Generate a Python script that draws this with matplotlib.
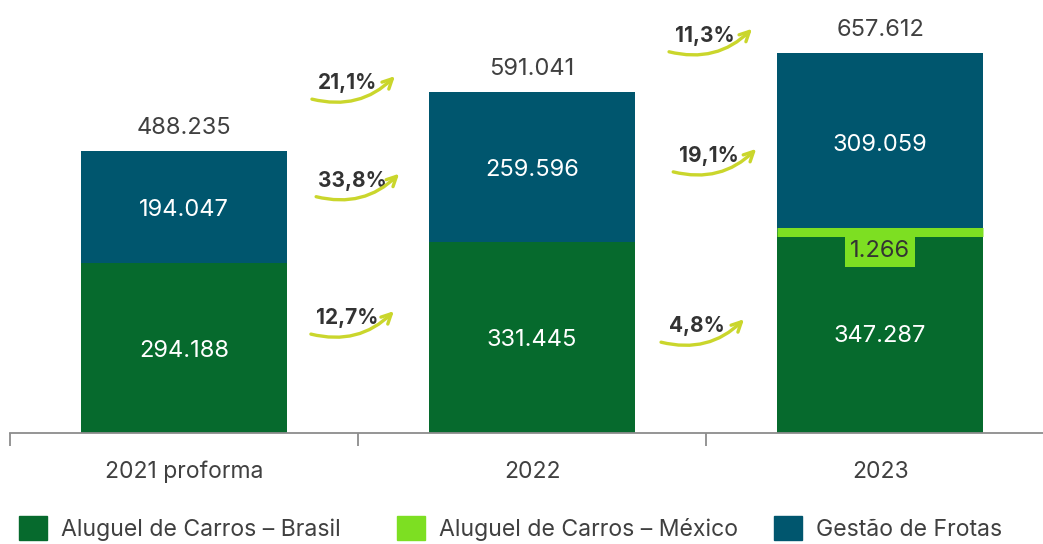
import matplotlib
matplotlib.use("Agg")
import matplotlib.pyplot as plt
import numpy as np
from matplotlib.patches import FancyArrowPatch, Patch
from matplotlib.transforms import IdentityTransform

# Revenue by business line (R$ thousand)
categories = ["2021 proforma", "2022", "2023"]
rental_brazil = [294.188, 331.445, 347.287]
rental_mexico = [0.0, 0.0, 1.266]
fleet_mgmt = [194.047, 259.596, 309.059]
series_names = ["Aluguel de Carros – Brasil", "Aluguel de Carros – México", "Gestão de Frotas"]

# Growth labels between years: (text, x, y) in data units
growth_labels = [
    ("21,1%", 0.471, 606), ("33,8%", 0.483, 437), ("12,7%", 0.468, 199),
    ("11,3%", 1.497, 688), ("19,1%", 1.509, 480), ("4,8%", 1.474, 185),
]

C_BR = "#066a2d"
C_MX = "#7ddf22"
C_FL = "#00566e"
C_ARROW = "#cad62c"
C_TEXT = "#404040"

plt.rcParams["font.family"] = ["Inter", "DejaVu Sans"]

fig = plt.figure(figsize=(10.43, 5.44), dpi=100)
ax = fig.add_axes([10 / 1043, 111 / 544, 1033 / 1043, 433 / 544])

x = np.arange(len(categories))
w = 0.59
br = np.array(rental_brazil) * 1000
mx = np.array(rental_mexico) * 1000
fl = np.array(fleet_mgmt) * 1000

ax.bar(x, br, w, color=C_BR, zorder=2)
ax.bar(x, mx, w, bottom=br, color=C_MX, edgecolor=C_MX,
       linewidth=np.where(mx > 0, 6.5, 0), zorder=3)
ax.bar(x, fl, w, bottom=br + mx, color=C_FL, zorder=2)

ax.set_xlim(-0.5, 2.468)
ax.set_ylim(0, 750000)

for s in ["top", "right", "left"]:
    ax.spines[s].set_visible(False)
ax.spines["bottom"].set_color("#8c8c8c")
ax.spines["bottom"].set_linewidth(1.3)
ax.set_yticks([])
ax.set_xticks(x)
ax.set_xticklabels(categories, fontsize=16.5, color=C_TEXT)
ax.tick_params(axis="x", which="major", length=0, pad=20)
ax.set_xticks([-0.5, 0.5, 1.5], minor=True)
ax.tick_params(axis="x", which="minor", length=9, width=1.3, color="#8c8c8c")

totals = br + mx + fl
for i in range(len(x)):
    # segment values
    ax.text(x[i], br[i] / 2 - 5000, f"{rental_brazil[i]:.3f}", ha="center", va="center",
            color="white", fontsize=17)
    ax.text(x[i], br[i] + mx[i] + fl[i] / 2 - 5000, f"{fleet_mgmt[i]:.3f}", ha="center",
            va="center", color="white", fontsize=17)
    # totals
    ax.annotate(f"{totals[i] / 1000:.3f}", xy=(x[i], totals[i]), xytext=(0, 23),
                textcoords="offset pixels", ha="center", va="center",
                color=C_TEXT, fontsize=17)
    if mx[i] > 0:
        ax.annotate(f"{rental_mexico[i]:.3f}", xy=(x[i], br[i] + mx[i]), xytext=(0, -19),
                    textcoords="offset pixels", ha="center", va="center",
                    color="#333333", fontsize=17,
                    bbox=dict(boxstyle="square,pad=0.22", fc=C_MX, ec="none"))

fig.canvas.draw()
for txt, gx, gy in growth_labels:
    ax.text(gx, gy * 1000, txt, ha="center", va="center", fontsize=15,
            fontweight="bold", color="#333333", zorder=5)
    base = ax.transData.transform((gx, gy * 1000))
    p0 = base + np.array([-36, -16])
    p1 = base + np.array([47, 7])
    arr = FancyArrowPatch(p0, p1, transform=IdentityTransform(),
                          connectionstyle="arc3,rad=0.28",
                          arrowstyle="->,head_length=7,head_width=3.5",
                          color=C_ARROW, linewidth=2.4, shrinkA=0, shrinkB=0)
    fig.add_artist(arr)

# Legend entries placed at fixed positions along the bottom
legend_x = [19, 397, 774]
for name, col, lx in zip(series_names, [C_BR, C_MX, C_FL], legend_x):
    leg = fig.legend([Patch(color=col)], [name], loc="lower left",
                     bbox_to_anchor=(lx / 1043, 3 / 544), frameon=False,
                     fontsize=16.6, labelcolor=C_TEXT, handlelength=1.2,
                     handleheight=1.2, handletextpad=0.62,
                     borderaxespad=0, borderpad=0)

fig.savefig("out.png", dpi=100)
